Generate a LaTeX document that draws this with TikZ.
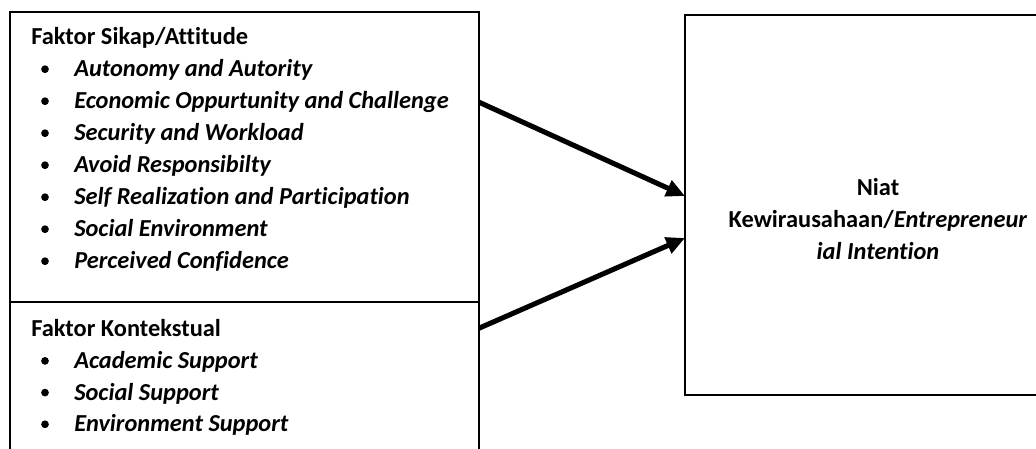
\documentclass[tikz,border=0pt]{standalone}
\usepackage{fontspec}
\setmainfont{Carlito}[Ligatures=NoCommon]
\usetikzlibrary{arrows.meta,positioning}

\begin{document}
\begin{tikzpicture}[x=0.75pt, y=-0.75pt,
        panel/.style = {draw, line width=1.2pt, inner sep=0pt, outer sep=0pt},
        heading/.style = {anchor=base west, inner sep=0pt, font=\fontsize{18.3}{24}\selectfont\bfseries},
        item/.style = {anchor=base west, inner sep=0pt, font=\fontsize{18.3}{24}\selectfont\bfseries\itshape},
        dot/.style = {circle, fill, inner sep=0pt, minimum size=5.8pt},
        link/.style = {line width=3.8pt, -{Triangle[length=14pt, width=12.5pt]}},
        ]
        \useasboundingbox (0,0) rectangle (1036,449);
        \clip (0,0) rectangle (1036,449);
        % left panels
        \node[panel, minimum width=351.75pt, minimum height=217.5pt] (attbox) at (244.5,157) {};
        \node[panel, minimum width=351.75pt, minimum height=150pt] (ctxbox) at (244.5,402) {};
        % right panel
        \node[panel, minimum width=289.5pt, minimum height=285pt] (niatbox) at (878,205) {};
        \node[align=center, inner sep=0pt, font=\fontsize{18.3}{24}\selectfont\bfseries] (niat) at (878,219)
            {Niat\\Kewirausahaan/\textit{Entrepreneur}\\\textit{ial Intention}};
        % attitude factors
        \node[heading] (atthead) at (31,44.7) {Faktor Sikap/Attitude};
        \foreach \t [count=\i] in {Autonomy and Autority, Economic Oppurtunity and Challenge,
            Security and Workload, Avoid Responsibilty, Self Realization and Participation,
            Social Environment, Perceived Confidence} {
            \node[item] (att\i) at (74,{44.7+32*\i}) {\t};
            \node[dot] (attdot\i) at (45,{37.2+32*\i}) {};
        }
        % contextual factors
        \node[heading] (ctxhead) at (31,336.7) {Faktor Kontekstual};
        \foreach \t [count=\i] in {Academic Support, Social Support, Environment Support} {
            \node[item] (ctx\i) at (74,{336.7+31.7*\i}) {\t};
            \node[dot] (ctxdot\i) at (45,{329.2+31.7*\i}) {};
        }
        % arrows
        \coordinate (in1) at (685,196);
        \coordinate (in2) at (685,238);
        \draw[link] (attbox.east |- att2) -- (in1);
        \draw[link] (ctxbox.east |- ctxhead) -- (in2);
    \end{tikzpicture}
\end{document}
